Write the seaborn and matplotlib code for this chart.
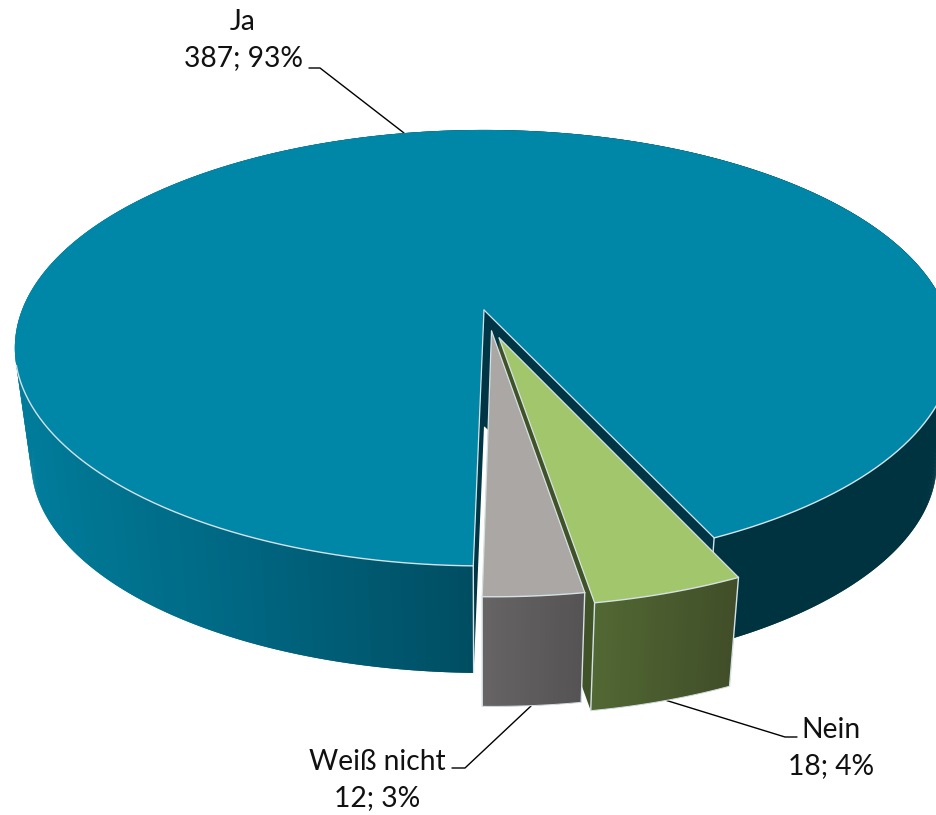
import numpy as np
import matplotlib.pyplot as plt
import seaborn as sns

sns.set_theme(style="white")
plt.rcParams['font.family'] = ['Lato', 'DejaVu Sans']

# data, in pie order starting from the right end of the big slice
labels = ['Ja', 'Weiß nicht', 'Nein']
values = [387, 12, 18]

top_colors = ['#0087a8', '#aba7a5', '#a2c66b']
cut_colors = ['#003545', '#5a5758', '#3f5228']
wall_stops = [
    ['#007c9a', '#006580', '#004c60', '#003340', '#003340'],
    ['#676465', '#565355'],
    ['#526833', '#414e29'],
]

# explode offsets on the unit disc (right, towards viewer)
offsets = [(0.0, 0.0), (0.016, 0.0975), (0.032, 0.129)]
start_angle = 24.8

# fake 3D camera, in pixels
x0, y0 = 484, 310
bx, ay, persp = 462, 211.4, 0.174
base_scale = 0.965
base_shifts = [126.8, 130.5, 129.0]
edge = '#d5e2e5'

label_pos = [(243, 40), (377, 780), (831, 748)]
leaders = [
    [(309, 68), (320, 68), (404, 133)],
    [(452, 768), (465, 768), (531, 706)],
    [(797, 737), (785, 737), (665, 700)],
]


def project(x, y, shift=None):
    d = 1 - persp * y
    sx = x0 + bx * x / d
    sy = y0 + ay * y / d
    if shift is not None:
        sx = x0 + (sx - x0) * base_scale
        sy = sy * base_scale + shift
    return sx, sy


fig = plt.figure(figsize=(9.36, 8.15), dpi=100)
ax = fig.add_axes([0, 0, 1, 1])
ax.set_xlim(0, 936)
ax.set_ylim(815, 0)
ax.axis('off')

total = sum(values)
sweeps = [v / total * 360 for v in values]
starts = start_angle + np.cumsum([0] + sweeps[:-1])

# Ja first, then Nein, Weiß nicht sits in front of the Nein cut face
for order, i in enumerate([0, 2, 1]):
    z = 10 * (order + 1)
    dx, dy = offsets[i]
    theta = np.radians(np.linspace(starts[i], starts[i] + sweeps[i], int(sweeps[i]) * 2 + 2))
    rim_x = np.sin(theta) + dx
    rim_y = np.cos(theta) + dy

    tx, ty = project(rim_x, rim_y)
    bx_, by_ = project(rim_x, rim_y, base_shifts[i])
    ax_t, ay_t = project(dx, dy)
    ax_b, ay_b = project(dx, dy, base_shifts[i])

    # cut faces
    for e in [0, -1]:
        ax.fill([ax_t, ax_b, bx_[e], tx[e]], [ay_t, ay_b, by_[e], ty[e]],
                color=cut_colors[i], lw=0, zorder=z)
    ax.plot([ax_t, ax_b], [ay_t, ay_b], color=cut_colors[i], lw=0.5, zorder=z)

    # outer wall, shaded left to right. each strip overlaps the next to hide seams
    pal = sns.blend_palette(wall_stops[i], 80)
    xmin, xmax = tx.min(), tx.max()
    n = len(theta)
    # paint from both ends towards the front so overlaps stay clean
    for k in range(n - 2):
        t = (0.5 * (tx[k] + tx[k + 1]) - xmin) / (xmax - xmin)
        c = pal[min(int(t * 80), 79)]
        ax.fill([tx[k], tx[k + 2], bx_[k + 2], bx_[k]],
                [ty[k], ty[k + 2], by_[k + 2], by_[k]],
                color=c, lw=0, zorder=z + 1)
    t = (tx[-1] - xmin) / (xmax - xmin)
    ax.fill([tx[-2], tx[-1], bx_[-1], bx_[-2]], [ty[-2], ty[-1], by_[-1], by_[-2]],
            color=pal[min(int(t * 80), 79)], lw=0, zorder=z + 1)

    # light outline of the wall
    if i != 0:
        ax.plot(bx_, by_, color=edge, lw=0.7, zorder=z + 2)
    for e in [0, -1]:
        ax.plot([tx[e], bx_[e]], [ty[e], by_[e]], color=edge, lw=1.0, zorder=z + 2)

    # top face, rim line only along the front where the wall shows
    ax.fill(np.r_[ax_t, tx], np.r_[ay_t, ty], color=top_colors[i], lw=0, zorder=z + 3)
    front = np.cos(theta) + dy > 0.25
    ax.plot(np.where(front, tx, np.nan), np.where(front, ty, np.nan),
            color=edge, lw=1.0, zorder=z + 4)
    for e in [0, -1]:
        ax.plot([ax_t, tx[e]], [ay_t, ty[e]], color=edge, lw=0.9, zorder=z + 4)

for lab, val, pos in zip(labels, values, label_pos):
    pct = round(val / total * 100)
    ax.text(pos[0], pos[1], f"{lab}\n{val}; {pct}%", ha='center', va='center',
            fontsize=20.3, color='#111111', linespacing=1.5, zorder=50)

for line in leaders:
    xs, ys = zip(*line)
    ax.plot(xs, ys, color='black', lw=1.0, zorder=5)

plt.savefig('out.png', dpi=100)
plt.close()
